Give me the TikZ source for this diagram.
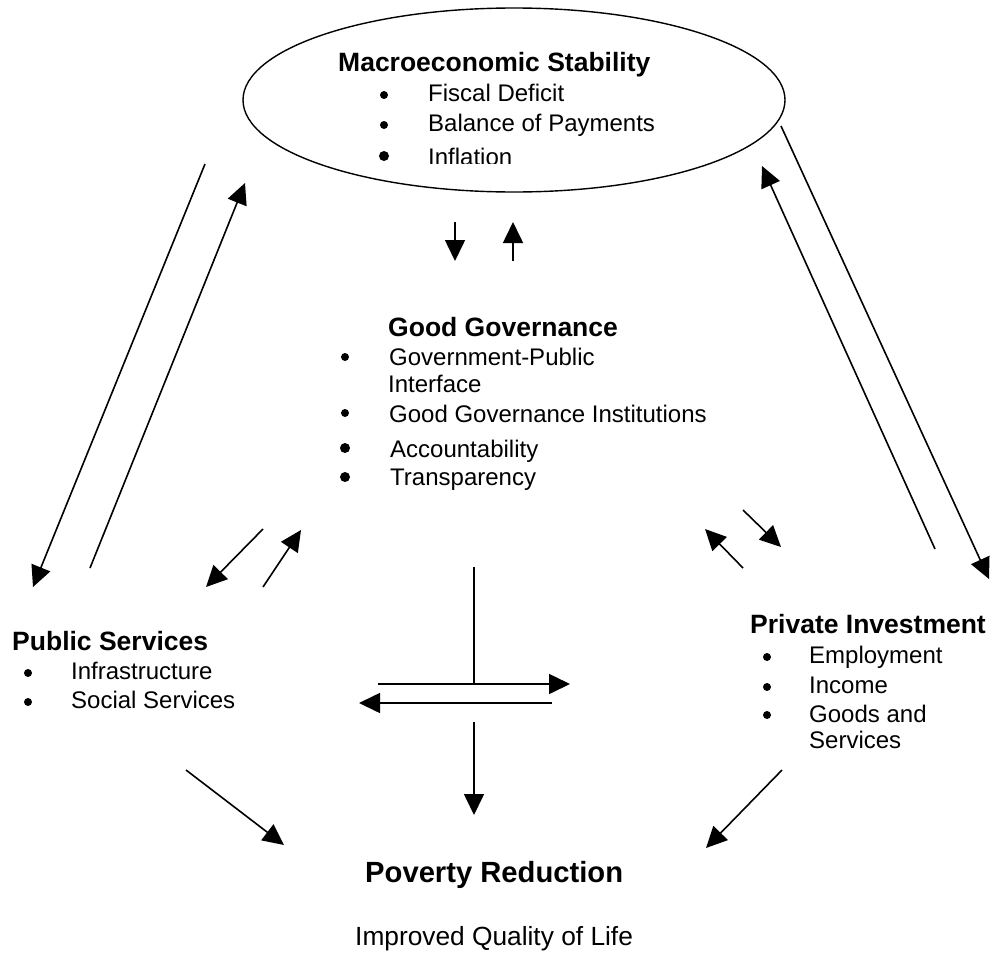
\documentclass[tikz,border=0pt]{standalone}
\usepackage{fontspec}
\setmainfont{Liberation Sans}
\usetikzlibrary{arrows.meta,shapes.geometric}
\begin{document}
\begin{tikzpicture}[x=1pt,y=-1pt,
  txt/.style={inner sep=0pt, anchor=base west, font=\fontsize{24}{28}\selectfont},
  ttl/.style={inner sep=0pt, anchor=base west, font=\bfseries\fontsize{26.5}{31}\selectfont},
  dot/.style={circle, fill, inner sep=0pt, minimum size=8pt},
  bigdot/.style={circle, fill, inner sep=0pt, minimum size=10pt},
  link/.style={line width=1.6pt, -{Triangle[length=21pt,width=20pt]}},
  plain/.style={line width=1.6pt}]
\useasboundingbox (0,0) rectangle (990,953);

% Macroeconomic stability
\node[draw, ellipse, line width=1.4pt, minimum width=542pt, minimum height=184pt] (macro) at (514,100) {};
\node[ttl] (macroT) at (338,71) {Macroeconomic Stability};
\node[dot] (m1d) at (384,95) {};
\node[txt] (m1) at (428,101) {Fiscal Deficit};
\node[dot] (m2d) at (384,125) {};
\node[txt] (m2) at (428,131) {Balance of Payments};
\node[bigdot] (m3d) at (384,156) {};
\begin{scope}
  % the text box of the ellipse cuts the last line short
  \clip (400,135) rectangle (600,163);
  \node[txt] (m3) at (428,165) {Inflation};
\end{scope}

% Good governance
\node[ttl] (govT) at (388,336) {Good Governance};
\node[dot] (g1d) at (345,357) {};
\node[txt] (g1) at (389,365) {Government-Public};
\node[txt] (g1b) at (388,392) {Interface};
\node[dot] (g2d) at (345,413) {};
\node[txt] (g2) at (389,422) {Good Governance Institutions};
\node[bigdot] (g3d) at (345,448) {};
\node[txt] (g3) at (390,457) {Accountability};
\node[bigdot] (g4d) at (345,477) {};
\node[txt] (g4) at (390,485) {Transparency};

% Public services
\node[ttl] (pubT) at (12,650) {Public Services};
\node[dot] (p1d) at (28,673) {};
\node[txt] (p1) at (71,679) {Infrastructure};
\node[dot] (p2d) at (28,702) {};
\node[txt] (p2) at (71,708) {Social Services};

% Private investment
\node[ttl] (privT) at (750,633) {Private Investment};
\node[dot] (r1d) at (767,657) {};
\node[txt] (r1) at (809,663) {Employment};
\node[dot] (r2d) at (767,687) {};
\node[txt] (r2) at (809,693) {Income};
\node[dot] (r3d) at (767,715) {};
\node[txt] (r3) at (809,722) {Goods and};
\node[txt] (r3b) at (809,748) {Services};

% Outcome
\node[ttl, font=\bfseries\fontsize{29.2}{34}\selectfont] (povT) at (365,882) {Poverty Reduction};
\node[txt, font=\fontsize{26.3}{31}\selectfont] (life) at (355,945) {Improved Quality of Life};

% Arrow end points
\coordinate (a1s) at (455,222); \coordinate (a1e) at (455,261);
\coordinate (a2s) at (513,261); \coordinate (a2e) at (513,222);
\coordinate (b1s) at (205,164); \coordinate (b1e) at (33,587);
\coordinate (b2s) at (90,568);  \coordinate (b2e) at (245,183);
\coordinate (c1s) at (781,126); \coordinate (c1e) at (989,579);
\coordinate (c2s) at (935,549); \coordinate (c2e) at (762,166);
\coordinate (d1s) at (263,529); \coordinate (d1e) at (206,587);
\coordinate (d2s) at (263,587); \coordinate (d2e) at (301,530);
\coordinate (e1s) at (743,510); \coordinate (e1e) at (781,547);
\coordinate (e2s) at (743,568); \coordinate (e2e) at (705,529);
\coordinate (hub) at (474,567); \coordinate (hubj) at (474,684);
\coordinate (h1s) at (378,684); \coordinate (h1e) at (570,684);
\coordinate (h2s) at (552,703); \coordinate (h2e) at (359,703);
\coordinate (vds) at (474,722); \coordinate (vde) at (474,815);
\coordinate (f1s) at (186,770); \coordinate (f1e) at (284,845);
\coordinate (f2s) at (782,770); \coordinate (f2e) at (706,848);

% Connectors
\draw[link] (a1s) -- (a1e);
\draw[link] (a2s) -- (a2e);
\draw[link] (b1s) -- (b1e);
\draw[link] (b2s) -- (b2e);
\draw[link] (c1s) -- (c1e);
\draw[link] (c2s) -- (c2e);
\draw[link] (d1s) -- (d1e);
\draw[link] (d2s) -- (d2e);
\draw[link] (e1s) -- (e1e);
\draw[link] (e2s) -- (e2e);
\draw[plain] (hub) -- (hubj);
\draw[link] (h1s) -- (h1e);
\draw[link] (h2s) -- (h2e);
\draw[link] (vds) -- (vde);
\draw[link] (f1s) -- (f1e);
\draw[link] (f2s) -- (f2e);
\end{tikzpicture}
\end{document}
